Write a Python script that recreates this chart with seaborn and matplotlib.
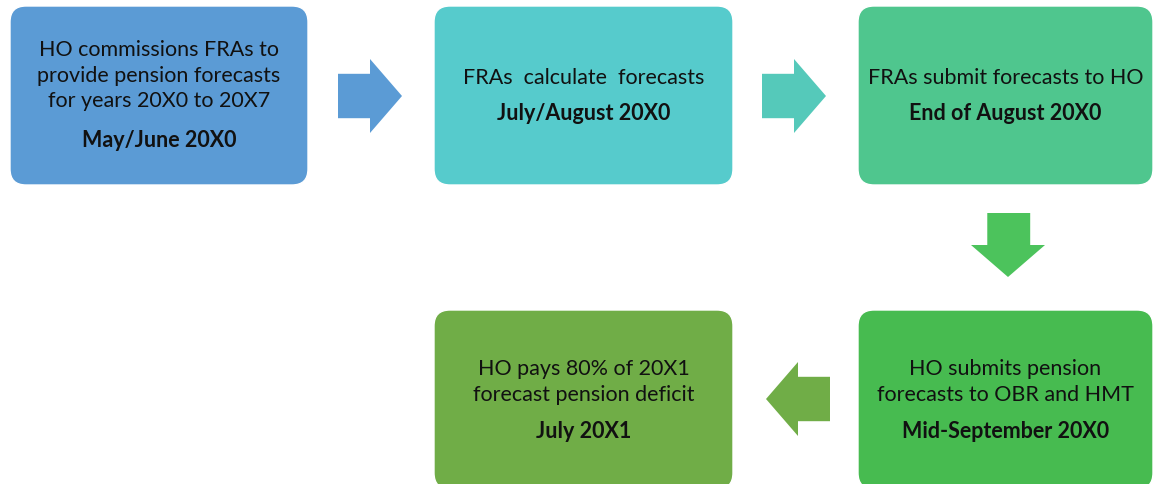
import matplotlib
matplotlib.use("Agg")
import matplotlib.pyplot as plt
import seaborn as sns
from matplotlib.patches import FancyBboxPatch, Polygon

# Process steps
step_text = [
    ["HO commissions FRAs to", "provide pension forecasts", "for years 20X0 to 20X7"],
    ["FRAs  calculate  forecasts"],
    ["FRAs submit forecasts to HO"],
    ["HO submits pension", "forecasts to OBR and HMT"],
    ["HO pays 80% of 20X1", "forecast pension deficit"],
]
step_date = ["May/June 20X0", "July/August 20X0", "End of August 20X0",
             "Mid-September 20X0", "July 20X1"]
step_color = ["#5B9BD5", "#56CBCC", "#4FC68E", "#47BB50", "#70AD47"]
# box extents (left, top, right, bottom) in pixels
step_box = [(10, 7, 308, 186), (434, 7, 733, 186), (858, 7, 1153, 186),
            (858, 311, 1153, 490), (434, 311, 733, 490)]
# text rows: first text line y, line spacing, date y
step_rows = [(50, 25.5, 141), (78, 0, 114), (78, 0, 114), (369, 26, 432), (369, 26, 432)]

# arrows: direction, bbox (x0, y0, x1, y1), colour
arrow_dir = ["right", "right", "down", "left"]
arrow_box = [(338, 60, 402, 134), (762, 60, 826, 134), (971, 214, 1045, 278), (766, 363, 830, 437)]
arrow_color = ["#5B9BD5", "#55C9BA", "#4CC35C", "#70AD47"]

sns.set_style("white")
plt.rcParams['font.family'] = ['Lato', 'DejaVu Sans']

fig = plt.figure(figsize=(11.54, 4.85), dpi=100)
ax = fig.add_axes([0, 0, 1, 1])
ax.set_xlim(0, 1154)
ax.set_ylim(485, 0)
ax.axis("off")

r = 16
for lines, date, col, (x0, y0, x1, y1), (ty, dy, dty) in zip(step_text, step_date, step_color, step_box, step_rows):
    ax.add_patch(FancyBboxPatch((x0 + r, y0 + r), x1 - x0 - 2 * r, y1 - y0 - 2 * r,
                                boxstyle=f"round,pad={r}", fc=col, ec="white", lw=1))
    cx = (x0 + x1) / 2
    for i, t in enumerate(lines):
        ax.text(cx, ty + i * dy, t, ha="center", va="center", fontsize=15.5, color="#111111")
    ax.text(cx, dty, date, ha="center", va="center", fontsize=15.5, fontweight="bold", color="#111111")

for d, (x0, y0, x1, y1), col in zip(arrow_dir, arrow_box, arrow_color):
    if d == "right":
        h = x0 + (x1 - x0) * 0.5
        s0, s1 = y0 + (y1 - y0) * 0.2, y1 - (y1 - y0) * 0.2
        pts = [(x0, s0), (h, s0), (h, y0), (x1, (y0 + y1) / 2), (h, y1), (h, s1), (x0, s1)]
    elif d == "left":
        h = x1 - (x1 - x0) * 0.5
        s0, s1 = y0 + (y1 - y0) * 0.2, y1 - (y1 - y0) * 0.2
        pts = [(x1, s0), (h, s0), (h, y0), (x0, (y0 + y1) / 2), (h, y1), (h, s1), (x1, s1)]
    else:
        h = y0 + (y1 - y0) * 0.5
        s0, s1 = x0 + (x1 - x0) * 0.22, x1 - (x1 - x0) * 0.2
        pts = [(s0, y0), (s1, y0), (s1, h), (x1, h), ((x0 + x1) / 2, y1), (x0, h), (s0, h)]
    ax.add_patch(Polygon(pts, closed=True, fc=col, ec="none"))

fig.savefig("out.png", dpi=100, facecolor="white")
